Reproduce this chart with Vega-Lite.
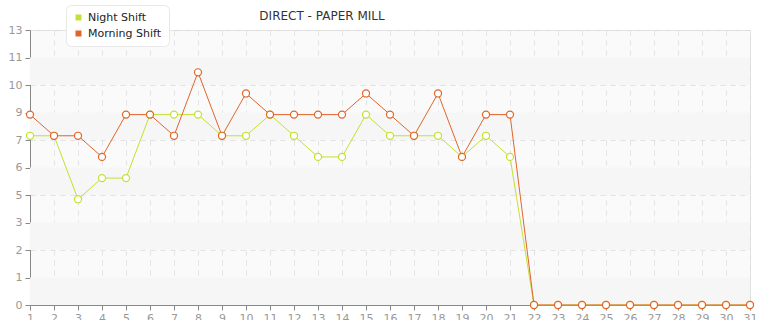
{
  "$schema": "https://vega.github.io/schema/vega-lite/v6.json",
  "width": 720,
  "height": 275,
  "autosize": "none",
  "padding": {"left": 30, "top": 30, "right": 15, "bottom": 15},
  "background": "white",
  "config": {
    "font": "DejaVu Sans",
    "view": {"stroke": "#dddddd", "fill": "#fafafa"},
    "axis": {
      "domainColor": "#888888",
      "tickColor": "#888888",
      "tickSize": 5,
      "labelColor": "#999999",
      "labelFontSize": 11,
      "labelFont": "DejaVu Sans",
      "gridColor": "#e3e3e3",
      "gridDash": [5, 5],
      "gridWidth": 1,
      "labelOverlap": false,
      "title": null
    }
  },
  "title": {
    "text": "DIRECT - PAPER MILL",
    "anchor": "middle",
    "dx": -68,
    "offset": -18,
    "fontSize": 12,
    "fontWeight": "normal",
    "color": "#333333",
    "font": "DejaVu Sans"
  },
  "datasets": {
    "bands": [
      {"y0": 0, "y1": 1.3},
      {"y0": 2.6, "y1": 3.9},
      {"y0": 5.2, "y1": 6.5},
      {"y0": 7.8, "y1": 9.1},
      {"y0": 10.4, "y1": 11.7}
    ],
    "shifts": [
      {"day": 1, "shift": "Night Shift", "value": 8},
      {"day": 2, "shift": "Night Shift", "value": 8},
      {"day": 3, "shift": "Night Shift", "value": 5},
      {"day": 4, "shift": "Night Shift", "value": 6},
      {"day": 5, "shift": "Night Shift", "value": 6},
      {"day": 6, "shift": "Night Shift", "value": 9},
      {"day": 7, "shift": "Night Shift", "value": 9},
      {"day": 8, "shift": "Night Shift", "value": 9},
      {"day": 9, "shift": "Night Shift", "value": 8},
      {"day": 10, "shift": "Night Shift", "value": 8},
      {"day": 11, "shift": "Night Shift", "value": 9},
      {"day": 12, "shift": "Night Shift", "value": 8},
      {"day": 13, "shift": "Night Shift", "value": 7},
      {"day": 14, "shift": "Night Shift", "value": 7},
      {"day": 15, "shift": "Night Shift", "value": 9},
      {"day": 16, "shift": "Night Shift", "value": 8},
      {"day": 17, "shift": "Night Shift", "value": 8},
      {"day": 18, "shift": "Night Shift", "value": 8},
      {"day": 19, "shift": "Night Shift", "value": 7},
      {"day": 20, "shift": "Night Shift", "value": 8},
      {"day": 21, "shift": "Night Shift", "value": 7},
      {"day": 22, "shift": "Night Shift", "value": 0},
      {"day": 23, "shift": "Night Shift", "value": 0},
      {"day": 24, "shift": "Night Shift", "value": 0},
      {"day": 25, "shift": "Night Shift", "value": 0},
      {"day": 26, "shift": "Night Shift", "value": 0},
      {"day": 27, "shift": "Night Shift", "value": 0},
      {"day": 28, "shift": "Night Shift", "value": 0},
      {"day": 29, "shift": "Night Shift", "value": 0},
      {"day": 30, "shift": "Night Shift", "value": 0},
      {"day": 31, "shift": "Night Shift", "value": 0},
      {"day": 1, "shift": "Morning Shift", "value": 9},
      {"day": 2, "shift": "Morning Shift", "value": 8},
      {"day": 3, "shift": "Morning Shift", "value": 8},
      {"day": 4, "shift": "Morning Shift", "value": 7},
      {"day": 5, "shift": "Morning Shift", "value": 9},
      {"day": 6, "shift": "Morning Shift", "value": 9},
      {"day": 7, "shift": "Morning Shift", "value": 8},
      {"day": 8, "shift": "Morning Shift", "value": 11},
      {"day": 9, "shift": "Morning Shift", "value": 8},
      {"day": 10, "shift": "Morning Shift", "value": 10},
      {"day": 11, "shift": "Morning Shift", "value": 9},
      {"day": 12, "shift": "Morning Shift", "value": 9},
      {"day": 13, "shift": "Morning Shift", "value": 9},
      {"day": 14, "shift": "Morning Shift", "value": 9},
      {"day": 15, "shift": "Morning Shift", "value": 10},
      {"day": 16, "shift": "Morning Shift", "value": 9},
      {"day": 17, "shift": "Morning Shift", "value": 8},
      {"day": 18, "shift": "Morning Shift", "value": 10},
      {"day": 19, "shift": "Morning Shift", "value": 7},
      {"day": 20, "shift": "Morning Shift", "value": 9},
      {"day": 21, "shift": "Morning Shift", "value": 9},
      {"day": 22, "shift": "Morning Shift", "value": 0},
      {"day": 23, "shift": "Morning Shift", "value": 0},
      {"day": 24, "shift": "Morning Shift", "value": 0},
      {"day": 25, "shift": "Morning Shift", "value": 0},
      {"day": 26, "shift": "Morning Shift", "value": 0},
      {"day": 27, "shift": "Morning Shift", "value": 0},
      {"day": 28, "shift": "Morning Shift", "value": 0},
      {"day": 29, "shift": "Morning Shift", "value": 0},
      {"day": 30, "shift": "Morning Shift", "value": 0},
      {"day": 31, "shift": "Morning Shift", "value": 0}
    ]
  },
  "layer": [
    {
      "data": {"name": "bands"},
      "mark": {"type": "rect", "fill": "#f6f6f6"},
      "encoding": {
        "y": {
          "field": "y0", "type": "quantitative",
          "scale": {"domain": [0, 13], "nice": false},
          "axis": {"values": [0, 1.3, 2.6, 3.9, 5.2, 6.5, 7.8, 9.1, 10.4, 11.7, 13], "labelExpr": "floor(datum.value + 0.0001)", "labelPadding": 3, "grid": true, "labelOverlap": false, "labelFlush": false}
        },
        "y2": {"field": "y1"}
      }
    },
    {
      "data": {"name": "shifts"},
      "mark": {"type": "line", "strokeWidth": 1, "interpolate": "linear"},
      "encoding": {
        "x": {
          "field": "day", "type": "quantitative",
          "scale": {"domain": [1, 31], "nice": false, "zero": false},
          "axis": {"values": [1,2,3,4,5,6,7,8,9,10,11,12,13,14,15,16,17,18,19,20,21,22,23,24,25,26,27,28,29,30,31], "labelPadding": 2, "grid": true, "labelFlush": false, "labelOverlap": false}
        },
        "y": {
          "field": "value", "type": "quantitative",
          "axis": {"values": [0, 1.3, 2.6, 3.9, 5.2, 6.5, 7.8, 9.1, 10.4, 11.7, 13], "labelExpr": "floor(datum.value + 0.0001)", "labelPadding": 3, "grid": true, "labelOverlap": false, "labelFlush": false}
        },
        "color": {
          "field": "shift", "type": "nominal",
          "scale": {"domain": ["Night Shift", "Morning Shift"], "range": ["#c5e032", "#e0652c"]},
          "legend": {
            "title": null,
            "orient": "none",
            "legendX": 36,
            "legendY": -25,
            "symbolType": "square",
            "symbolSize": 36,
            "symbolStrokeWidth": 0,
            "labelFontSize": 11,
            "labelColor": "#222222",
            "labelFont": "DejaVu Sans",
            "rowPadding": 4,
            "padding": 7,
            "fillColor": "white",
            "strokeColor": "#e8e8e8",
            "cornerRadius": 5,
            "encode": {"symbols": {"update": {"fill": {"scale": "color", "field": "value"}, "fillOpacity": {"value": 1}, "strokeWidth": {"value": 0}}}}
          }
        }
      }
    },
    {
      "data": {"name": "shifts"},
      "mark": {"type": "point", "filled": false, "fill": "white", "fillOpacity": 1, "size": 50, "strokeWidth": 1.2, "opacity": 1},
      "encoding": {
        "x": {
          "field": "day", "type": "quantitative",
          "axis": {"values": [1,2,3,4,5,6,7,8,9,10,11,12,13,14,15,16,17,18,19,20,21,22,23,24,25,26,27,28,29,30,31], "labelPadding": 2, "grid": true, "labelFlush": false, "labelOverlap": false}
        },
        "y": {
          "field": "value", "type": "quantitative",
          "axis": {"values": [0, 1.3, 2.6, 3.9, 5.2, 6.5, 7.8, 9.1, 10.4, 11.7, 13], "labelExpr": "floor(datum.value + 0.0001)", "labelPadding": 3, "grid": true, "labelOverlap": false, "labelFlush": false}
        },
        "color": {"field": "shift", "type": "nominal", "legend": null}
      }
    }
  ]
}
